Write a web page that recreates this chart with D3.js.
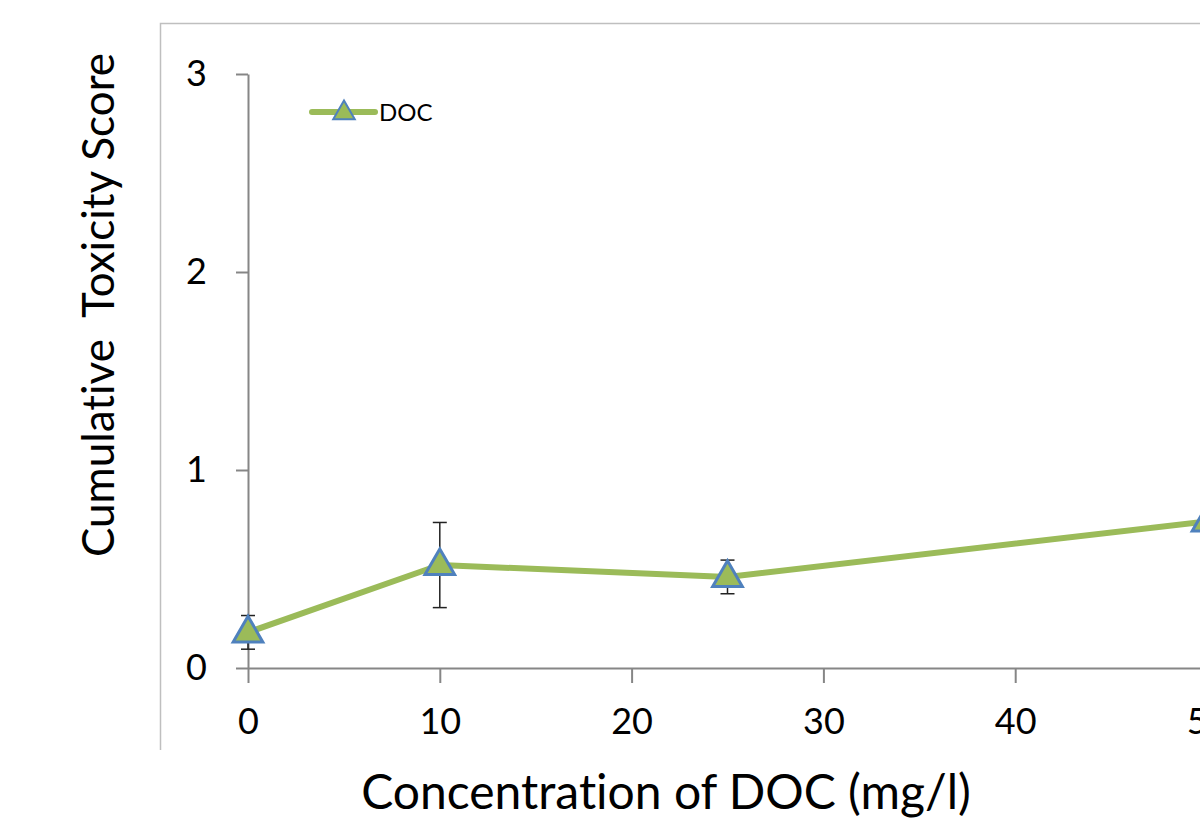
<!DOCTYPE html>
<html>
<head>
<meta charset="utf-8">
<script src="https://cdn.jsdelivr.net/npm/d3@7"></script>
<style>
  body { margin: 0; background: #fff; overflow: hidden; }
  svg { display: block; font-family: Lato, "Open Sans", sans-serif; font-variant-ligatures: none; }
</style>
</head>
<body>
<svg id="chart" width="1200" height="822"></svg>
<script>
// data
var conc = [0, 10, 25, 50];
var score = [0.18, 0.52, 0.46, 0.74];
var err = [0.085, 0.215, 0.085, 0.08];
var xTicks = [0, 10, 20, 30, 40, 50];
var yTicks = [0, 1, 2, 3];
var seriesName = "DOC";

var lineColor = "#9bbb59",
    markerStroke = "#4f81bd",
    axisColor = "#868686";

var svg = d3.select("#chart");

// chart frame (right and bottom edges fall outside the picture)
svg.append("path")
    .attr("d", "M160.5,750 L160.5,23.5 L1210,23.5")
    .attr("fill", "none")
    .attr("stroke", "#bfbfbf")
    .attr("stroke-width", 1.5);

var x = d3.scaleLinear().domain([0, 50]).range([248, 1207]);
var y = d3.scaleLinear().domain([0, 3]).range([668, 74]);

// x axis
var xAxis = svg.append("g")
    .attr("transform", "translate(0,668)")
    .call(d3.axisBottom(x).tickValues(xTicks).tickFormat(d3.format("d"))
        .tickSizeInner(15).tickSizeOuter(0).tickPadding(25));
xAxis.select(".domain").attr("stroke", axisColor).attr("stroke-width", 2);
xAxis.selectAll(".tick line").attr("stroke", axisColor).attr("stroke-width", 2);
xAxis.selectAll(".tick text")
    .attr("fill", "#000")
    .style("font-size", "36px")
    .style("font-family", "Lato, sans-serif");

// y axis
var yAxis = svg.append("g")
    .attr("transform", "translate(248,0)")
    .call(d3.axisLeft(y).tickValues(yTicks).tickFormat(d3.format("d"))
        .tickSizeInner(12).tickSizeOuter(0).tickPadding(29));
yAxis.select(".domain").attr("stroke", axisColor).attr("stroke-width", 2);
yAxis.selectAll(".tick line").attr("stroke", axisColor).attr("stroke-width", 2);
yAxis.selectAll(".tick text")
    .attr("fill", "#000")
    .style("font-size", "36px")
    .style("font-family", "Lato, sans-serif");

// axis titles
svg.append("text")
    .attr("x", 666)
    .attr("y", 809)
    .attr("text-anchor", "middle")
    .style("font-size", "48px")
    .text("Concentration of DOC (mg/l)");

svg.append("text")
    .attr("transform", "translate(114,305) rotate(-90)")
    .attr("text-anchor", "middle")
    .style("font-size", "44px")
    .style("white-space", "pre")
    .text("Cumulative  Toxicity Score");

var data = conc.map(function (c, i) { return { x: c, y: score[i], e: err[i] }; });

// error bars
var eb = svg.append("g").selectAll("g").data(data).join("g");
eb.append("line")
    .attr("x1", function (d) { return x(d.x); })
    .attr("x2", function (d) { return x(d.x); })
    .attr("y1", function (d) { return y(d.y - d.e); })
    .attr("y2", function (d) { return y(d.y + d.e); })
    .attr("stroke", "#222").attr("stroke-width", 1.5);
[-1, 1].forEach(function (s) {
    eb.append("line")
        .attr("x1", function (d) { return x(d.x) - 7; })
        .attr("x2", function (d) { return x(d.x) + 7; })
        .attr("y1", function (d) { return y(d.y + s * d.e); })
        .attr("y2", function (d) { return y(d.y + s * d.e); })
        .attr("stroke", "#222").attr("stroke-width", 1.5);
});

// line
svg.append("path")
    .datum(data)
    .attr("fill", "none")
    .attr("stroke", lineColor)
    .attr("stroke-width", 6)
    .attr("stroke-linejoin", "round")
    .attr("d", d3.line()
        .x(function (d) { return x(d.x); })
        .y(function (d) { return y(d.y); }));

// triangle markers
var tri = d3.symbol().type(d3.symbolTriangle).size(380);
svg.append("g").selectAll("path").data(data).join("path")
    .attr("transform", function (d) { return "translate(" + x(d.x) + "," + (y(d.y) + 1) + ")"; })
    .attr("d", tri)
    .attr("fill", lineColor)
    .attr("stroke", markerStroke)
    .attr("stroke-width", 3)
    .attr("stroke-linejoin", "miter");

// legend
var lg = svg.append("g").attr("transform", "translate(312,112)");
lg.append("line")
    .attr("x1", 0).attr("x2", 63)
    .attr("stroke", lineColor).attr("stroke-width", 6).attr("stroke-linecap", "round");
lg.append("path")
    .attr("transform", "translate(32,1)")
    .attr("d", d3.symbol().type(d3.symbolTriangle).size(200))
    .attr("fill", lineColor)
    .attr("stroke", markerStroke)
    .attr("stroke-width", 2);
lg.append("text")
    .attr("x", 67)
    .attr("y", 9)
    .style("font-size", "24px")
    .text(seriesName);
</script>
</body>
</html>
